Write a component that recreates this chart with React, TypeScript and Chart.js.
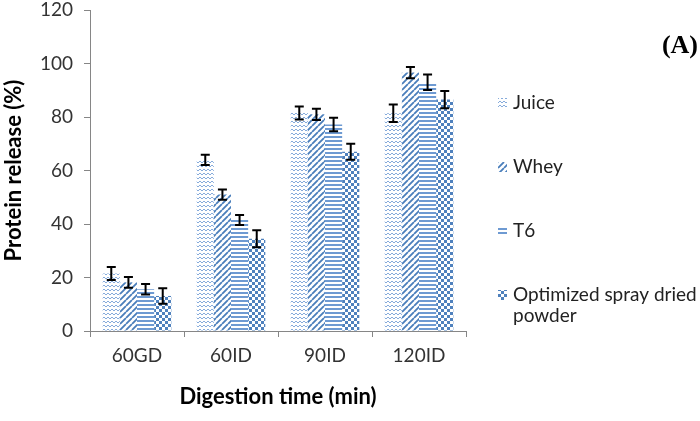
import React, { useEffect, useRef } from "react";
import { Chart, registerables } from "chart.js";

Chart.register(...registerables);

const categories = ["60GD", "60ID", "90ID", "120ID"];
const seriesNames = ["Juice", "Whey", "T6", "Optimized spray dried powder"];
const juice = [21.5, 64, 81.5, 81.4];
const whey = [18.2, 51, 81, 96.6];
const t6 = [15.6, 41.5, 77.2, 93];
const optimized = [13.1, 34.5, 67, 86.5];
const juiceErr = [2.4, 1.9, 2.4, 3.3];
const wheyErr = [2, 1.9, 2.1, 2.1];
const t6Err = [2, 1.9, 2.5, 2.9];
const optimizedErr = [2.9, 3.2, 3, 3.2];
const yMin = 0;
const yMax = 120;
const yStep = 20;
const xTitle = "Digestion time (min)";
const yTitle = "Protein release (%)";
const panelLabel = "(A)";

type Kind = "wave" | "diag" | "horiz" | "check";

function makePattern(kind: Kind): CanvasPattern | string {
  const c = document.createElement("canvas");
  const g = c.getContext("2d");
  if (!g) return "#4F81BD";
  if (kind === "wave") {
    c.width = 8;
    c.height = 4;
    g.strokeStyle = "#86ABDB";
    g.lineWidth = 1;
    g.beginPath();
    g.moveTo(0, 1);
    g.lineTo(2, 3);
    g.lineTo(4, 1);
    g.lineTo(6, 3);
    g.lineTo(8, 1);
    g.stroke();
  } else if (kind === "diag") {
    c.width = 6;
    c.height = 6;
    g.strokeStyle = "#4A7EBB";
    g.lineWidth = 1.8;
    g.beginPath();
    for (let k = -6; k <= 12; k += 6) {
      g.moveTo(k, 6);
      g.lineTo(k + 6, 0);
    }
    g.stroke();
  } else if (kind === "horiz") {
    c.width = 4;
    c.height = 4;
    g.fillStyle = "#6E9AD2";
    g.fillRect(0, 0, 4, 2);
  } else {
    c.width = 6;
    c.height = 6;
    g.fillStyle = "#4F81BD";
    g.fillRect(0, 0, 3, 3);
    g.fillRect(3, 3, 3, 3);
  }
  const p = g.createPattern(c, "repeat");
  return p || "#4F81BD";
}

export default function App() {
  const ref = useRef<HTMLCanvasElement | null>(null);

  useEffect(() => {
    if (!ref.current) return;
    const kinds: Kind[] = ["wave", "diag", "horiz", "check"];
    const patterns = kinds.map((k) => makePattern(k));
    const values = [juice, whey, t6, optimized];
    const errors = [juiceErr, wheyErr, t6Err, optimizedErr];

    const errorBars = {
      id: "errorBars",
      afterDatasetsDraw(chart: any) {
        const ctx = chart.ctx;
        const ys = chart.scales.y;
        ctx.save();
        ctx.strokeStyle = "#000000";
        ctx.lineWidth = 2;
        chart.data.datasets.forEach((ds: any, di: number) => {
          const meta = chart.getDatasetMeta(di);
          meta.data.forEach((bar: any, i: number) => {
            const v = ds.data[i];
            const e = errors[di][i];
            const x = bar.x;
            const t = ys.getPixelForValue(v + e);
            const b = ys.getPixelForValue(v - e);
            ctx.beginPath();
            ctx.moveTo(x, t);
            ctx.lineTo(x, b);
            ctx.moveTo(x - 4.5, t);
            ctx.lineTo(x + 4.5, t);
            ctx.moveTo(x - 4.5, b);
            ctx.lineTo(x + 4.5, b);
            ctx.stroke();
          });
        });
        ctx.restore();
      },
    };

    const sideLegend = {
      id: "sideLegend",
      afterDraw(chart: any) {
        const ctx = chart.ctx;
        ctx.save();
        ctx.font = "19px Lato";
        ctx.fillStyle = "#222222";
        ctx.textBaseline = "middle";
        ctx.textAlign = "left";
        const maxW = 190;
        chart.data.datasets.forEach((ds: any, i: number) => {
          const y = 103 + i * 64;
          ctx.fillStyle = ds.backgroundColor;
          ctx.fillRect(498, y - 5, 9, 10);
          ctx.fillStyle = "#222222";
          const words = String(ds.label).split(" ");
          const lines: string[] = [];
          let cur = "";
          words.forEach((w) => {
            const test = cur ? cur + " " + w : w;
            if (ctx.measureText(test).width > maxW && cur) {
              lines.push(cur);
              cur = w;
            } else {
              cur = test;
            }
          });
          if (cur) lines.push(cur);
          lines.forEach((ln, li) => ctx.fillText(ln, 513, y + li * 21));
        });
        ctx.font = "bold 26px 'Liberation Serif'";
        ctx.fillStyle = "#000000";
        ctx.textAlign = "right";
        ctx.fillText(panelLabel, 698, 46);
        ctx.restore();
      },
    };

    const chart = new Chart(ref.current, {
      type: "bar",
      data: {
        labels: categories,
        datasets: seriesNames.map((name, i) => ({
          label: name,
          data: values[i],
          backgroundColor: patterns[i] as any,
          borderWidth: 0,
          barPercentage: 1,
          categoryPercentage: 0.73,
        })),
      },
      options: {
        animation: false,
        responsive: true,
        maintainAspectRatio: false,
        layout: { padding: { left: 0, top: 10, right: 234, bottom: 0 } },
        plugins: {
          legend: { display: false },
          tooltip: { enabled: false },
        },
        scales: {
          x: {
            grid: {
              drawOnChartArea: false,
              drawTicks: true,
              tickLength: 6,
              color: "#868686",
              offset: true,
            },
            border: { color: "#868686", width: 1 },
            ticks: {
              font: { family: "Lato", size: 19 },
              color: "#333333",
              padding: 7,
            },
            title: {
              display: true,
              text: xTitle,
              font: { family: "Lato", size: 22, weight: "bold" },
              color: "#000000",
              padding: { top: 0, bottom: 11 },
            },
            afterFit(scale: any) {
              scale.height = 90;
              scale.paddingLeft = 0;
              scale.paddingRight = 0;
            },
          },
          y: {
            min: yMin,
            max: yMax,
            grid: {
              drawOnChartArea: false,
              drawTicks: true,
              tickLength: 6,
              color: "#868686",
            },
            border: { color: "#868686", width: 1 },
            ticks: {
              stepSize: yStep,
              font: { family: "Lato", size: 19 },
              color: "#333333",
              padding: 11,
            },
            title: {
              display: true,
              text: yTitle,
              font: { family: "Lato", size: 22, weight: "bold" },
              color: "#000000",
              padding: { top: 1, bottom: 0 },
            },
            afterFit(scale: any) {
              scale.width = 90;
              scale.paddingTop = 0;
              scale.paddingBottom = 0;
            },
          },
        },
      },
      plugins: [errorBars, sideLegend],
    });
    return () => chart.destroy();
  }, []);

  return (
    <div style={{ position: "fixed", left: 0, top: 0, width: 700, height: 421, background: "#ffffff" }}>
      <canvas ref={ref} />
    </div>
  );
}
